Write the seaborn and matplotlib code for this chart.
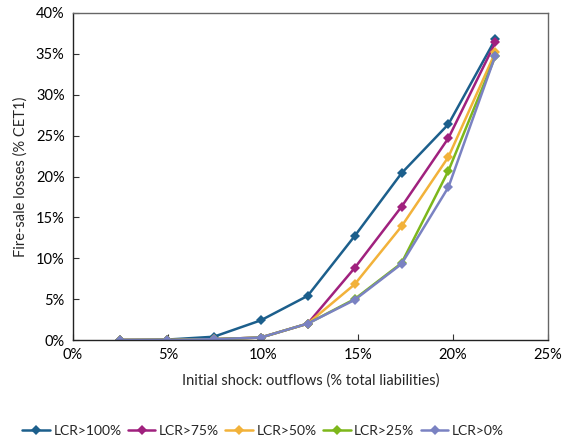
import matplotlib
matplotlib.use("Agg")
import matplotlib.pyplot as plt
import matplotlib.ticker as mticker
import seaborn as sns
import pandas as pd

shock = [2.47, 4.94, 7.41, 9.88, 12.35, 14.82, 17.29, 19.76, 22.23]
lcr100 = [0.0, 0.05, 0.4, 2.4, 5.4, 12.7, 20.4, 26.4, 36.8]
lcr75 = [0.0, 0.0, 0.1, 0.3, 2.0, 8.8, 16.3, 24.7, 36.4]
lcr50 = [0.0, 0.0, 0.1, 0.3, 2.0, 6.8, 13.9, 22.4, 35.2]
lcr25 = [0.0, 0.0, 0.1, 0.3, 2.0, 5.0, 9.4, 20.7, 34.7]
lcr0 = [0.0, 0.0, 0.1, 0.3, 2.0, 4.9, 9.3, 18.7, 34.8]
series_names = ["LCR>100%", "LCR>75%", "LCR>50%", "LCR>25%", "LCR>0%"]
colors = ["#1C5F8C", "#A0217E", "#F2B23A", "#7DB71B", "#7A82C2"]

series_vals = [lcr100, lcr75, lcr50, lcr25, lcr0]
rows = []
for name, vals in zip(series_names, series_vals):
    for x, y in zip(shock, vals):
        rows.append({"shock": x, "loss": y, "series": name})
df = pd.DataFrame(rows)

sns.set_theme(style="white")
plt.rcParams["font.family"] = ["Lato", "DejaVu Sans"]

fig = plt.figure(figsize=(5.65, 4.37), dpi=100)
ax = fig.add_axes([73/565, 1-340/437, 475/565, 327/437])

sns.lineplot(data=df, x="shock", y="loss", hue="series", hue_order=series_names,
             palette=colors, marker="D", markersize=5, markeredgewidth=0,
             linewidth=1.8, ax=ax, sort=False)

ax.set_xlim(0, 25)
ax.set_ylim(0, 40)
ax.set_xticks([0, 5, 10, 15, 20, 25])
ax.set_yticks(range(0, 41, 5))
ax.xaxis.set_major_formatter(mticker.FuncFormatter(lambda v, p: f"{v:.0f}%"))
ax.yaxis.set_major_formatter(mticker.FuncFormatter(lambda v, p: f"{v:.0f}%"))
ax.tick_params(axis="both", direction="in", length=4, width=0.8, colors="#333333",
               labelsize=10.5, labelcolor="black", pad=6)
ax.tick_params(axis="both", bottom=True, left=True)
for side in ["left", "bottom"]:
    ax.spines[side].set_color("#222222")
    ax.spines[side].set_linewidth(1.0)
for side in ["top", "right"]:
    ax.spines[side].set_color("#666666")
    ax.spines[side].set_linewidth(1.0)

ax.set_xlabel("Initial shock: outflows (% total liabilities)", fontsize=10.5, labelpad=8)
ax.set_ylabel("Fire-sale losses (% CET1)", fontsize=10.5, labelpad=6)

handles, labels = ax.get_legend_handles_labels()
ax.legend(handles, labels, loc="center", bbox_to_anchor=(263/565, 1-431/437),
          bbox_transform=fig.transFigure, ncol=5, frameon=False, fontsize=10,
          handlelength=2.0, handletextpad=0.25, columnspacing=0.45,
          borderpad=0.1)

fig.savefig("out.png", dpi=100)
